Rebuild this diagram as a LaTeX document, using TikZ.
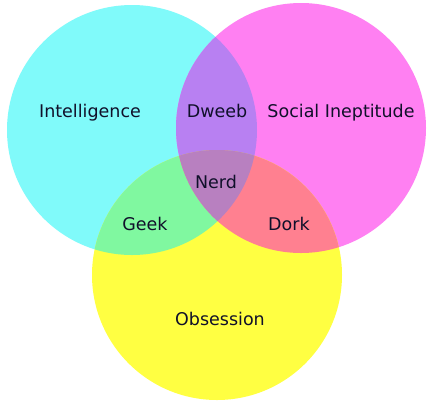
\documentclass[tikz,border=0pt]{standalone}
\usepackage{fontspec}
\setmainfont{DejaVu Sans}
\definecolor{cInt}{HTML}{80FAFA}
\definecolor{cSoc}{HTML}{FF80F2}
\definecolor{cObs}{HTML}{FFFF42}
\definecolor{cDweeb}{HTML}{B880F2}
\definecolor{cGeek}{HTML}{80F8A0}
\definecolor{cDork}{HTML}{FF8090}
\definecolor{cNerd}{HTML}{B880C0}
\definecolor{ink}{HTML}{10102A}
\tikzset{
  lbl/.style={anchor=base, text=ink, inner sep=0pt, font=\fontsize{17.5}{20}\selectfont}
}
\begin{document}
\begin{tikzpicture}[x=1pt,y=-1pt]
\useasboundingbox (0,0) rectangle (434,400);
\fill[white] (0,0) rectangle (434,400);
% the three sets
\def\cint{(132,130) circle[radius=125]}
\def\csoc{(301,128) circle[radius=125]}
\def\cobs{(217,275) circle[radius=125]}
\fill[cInt] \cint;
\fill[cSoc] \csoc;
\fill[cObs] \cobs;
% pairwise overlaps
\begin{scope}\clip \cint; \fill[cDweeb] \csoc; \end{scope}
\begin{scope}\clip \cint; \fill[cGeek] \cobs; \end{scope}
\begin{scope}\clip \csoc; \fill[cDork] \cobs; \end{scope}
% triple overlap
\begin{scope}\clip \cint; \clip \csoc; \fill[cNerd] \cobs; \end{scope}
% labels
\node[lbl] (int) at (90,117) {Intelligence};
\node[lbl] (dweeb) at (217,117) {Dweeb};
\node[lbl] (soc) at (341,117) {Social Ineptitude};
\node[lbl] (nerd) at (216,188) {Nerd};
\node[lbl] (geek) at (145,230) {Geek};
\node[lbl] (dork) at (289,230) {Dork};
\node[lbl] (obs) at (220,325) {Obsession};
\end{tikzpicture}
\end{document}
